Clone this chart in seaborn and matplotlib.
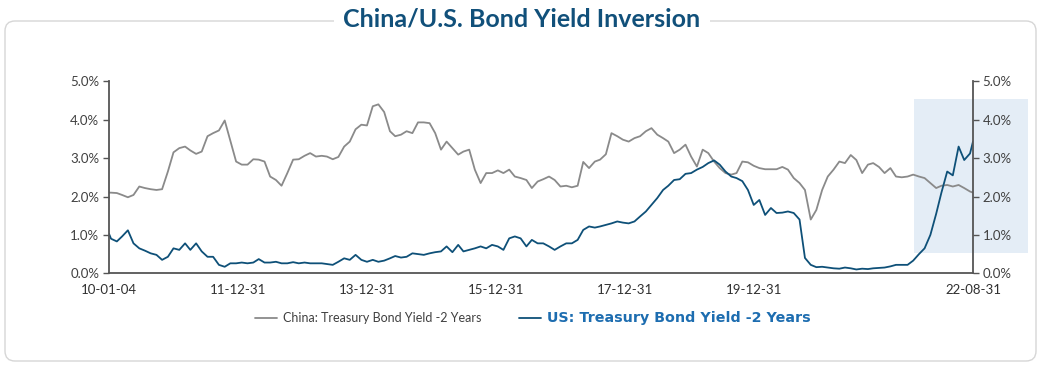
import pandas as pd
import seaborn as sns
import matplotlib.pyplot as plt
import matplotlib.dates as mdates
from matplotlib.patches import Rectangle, FancyBboxPatch
from matplotlib.transforms import IdentityTransform

# month-by-month readings (mid month); 2010 starts with 2010-01-04, 2022 ends with 2022-08-31
china_2y = [
    2.10, 2.10, 2.09, 2.04, 1.98, 2.04, 2.26, 2.22, 2.19, 2.17, 2.19, 2.65, 3.15,  # 2010
    3.26, 3.30, 3.20, 3.11, 3.17, 3.57, 3.65, 3.72, 3.98, 3.45, 2.91, 2.83,        # 2011
    2.83, 2.97, 2.96, 2.91, 2.52, 2.43, 2.28, 2.61, 2.96, 2.97, 3.06, 3.13,        # 2012
    3.04, 3.06, 3.04, 2.97, 3.03, 3.30, 3.43, 3.75, 3.87, 3.85, 4.35, 4.40,        # 2013
    4.20, 3.70, 3.57, 3.61, 3.70, 3.65, 3.93, 3.93, 3.91, 3.65, 3.22, 3.43,        # 2014
    3.26, 3.09, 3.17, 3.22, 2.70, 2.35, 2.61, 2.61, 2.68, 2.61, 2.70, 2.52,        # 2015
    2.48, 2.43, 2.22, 2.39, 2.45, 2.52, 2.43, 2.26, 2.28, 2.24, 2.28, 2.90,        # 2016
    2.74, 2.91, 2.96, 3.10, 3.65, 3.57, 3.48, 3.43, 3.52, 3.57, 3.70, 3.78,        # 2017
    3.61, 3.52, 3.43, 3.13, 3.22, 3.35, 3.04, 2.78, 3.22, 3.13, 2.91, 2.74,        # 2018
    2.61, 2.57, 2.61, 2.91, 2.89, 2.80, 2.74, 2.71, 2.71, 2.71, 2.77, 2.70,        # 2019
    2.48, 2.35, 2.17, 1.40, 1.65, 2.17, 2.52, 2.70, 2.91, 2.87, 3.08, 2.95,        # 2020
    2.61, 2.83, 2.87, 2.77, 2.61, 2.74, 2.52, 2.50, 2.52, 2.57, 2.52, 2.48,        # 2021
    2.35, 2.22, 2.28, 2.30, 2.26, 2.30, 2.22, 2.13, 2.10,                          # 2022
]
us_2y = [
    1.03, 0.90, 0.83, 0.96, 1.12, 0.78, 0.65, 0.59, 0.52, 0.48, 0.35, 0.43, 0.65,  # 2010
    0.61, 0.78, 0.61, 0.78, 0.57, 0.43, 0.43, 0.22, 0.17, 0.26, 0.26, 0.28,        # 2011
    0.26, 0.28, 0.37, 0.28, 0.28, 0.30, 0.26, 0.26, 0.29, 0.26, 0.28, 0.26,        # 2012
    0.26, 0.26, 0.24, 0.22, 0.30, 0.39, 0.35, 0.48, 0.35, 0.30, 0.35, 0.30,        # 2013
    0.33, 0.39, 0.45, 0.41, 0.43, 0.52, 0.50, 0.48, 0.52, 0.55, 0.57, 0.70,        # 2014
    0.55, 0.74, 0.57, 0.61, 0.65, 0.70, 0.65, 0.74, 0.70, 0.61, 0.91, 0.96,        # 2015
    0.91, 0.70, 0.87, 0.78, 0.78, 0.70, 0.61, 0.70, 0.78, 0.78, 0.87, 1.13,        # 2016
    1.22, 1.19, 1.22, 1.26, 1.30, 1.35, 1.32, 1.30, 1.35, 1.48, 1.61, 1.78,        # 2017
    1.96, 2.17, 2.28, 2.43, 2.45, 2.59, 2.61, 2.70, 2.77, 2.87, 2.94, 2.83,        # 2018
    2.65, 2.52, 2.48, 2.40, 2.17, 1.78, 1.91, 1.52, 1.70, 1.57, 1.58, 1.61,        # 2019
    1.57, 1.40, 0.40, 0.22, 0.16, 0.17, 0.15, 0.13, 0.12, 0.15, 0.13, 0.10,        # 2020
    0.12, 0.11, 0.13, 0.14, 0.15, 0.18, 0.22, 0.22, 0.22, 0.33, 0.50, 0.65,        # 2021
    1.00, 1.55, 2.10, 2.65, 2.55, 3.30, 2.95, 3.12, 3.43,                          # 2022
]
dates = (["2010-01-04"]
         + [f"{y}-{m:02d}-15" for y in range(2010, 2022) for m in range(1, 13)]
         + [f"2022-{m:02d}-15" for m in range(1, 9)]
         + ["2022-08-31"])

x_ticks = ["2010-01-04", "2011-11-24", "2013-10-15", "2015-09-05", "2017-07-26", "2019-06-16", "2022-08-31"]
x_labels = ["10-01-04", "11-12-31", "13-12-31", "15-12-31", "17-12-31", "19-12-31", "22-08-31"]
china_label = "China: Treasury Bond Yield -2 Years"
us_label = "US: Treasury Bond Yield -2 Years"

df = pd.DataFrame({
    "date": pd.to_datetime(dates * 2),
    "value": china_2y + us_2y,
    "series": [china_label] * len(dates) + [us_label] * len(dates),
})

sns.set_theme(style="white")
plt.rcParams["font.family"] = ["Lato", "DejaVu Sans"]

fig = plt.figure(figsize=(10.44, 3.67), dpi=100)
ax = fig.add_axes([109 / 1044, 93.7 / 367, 864 / 1044, 192 / 367])
ax.set_facecolor("none")

# highlighted recent period
x0 = mdates.date2num(pd.Timestamp("2021-10-19"))
x1 = mdates.date2num(pd.Timestamp("2023-06-21"))
ax.add_patch(Rectangle((x0, 0.52), x1 - x0, 4.01, facecolor="#e4edf6",
                       edgecolor="none", clip_on=False, zorder=0))

sns.lineplot(data=df, x="date", y="value", hue="series",
             palette={china_label: "#8a8a8a", us_label: "#0e5078"},
             linewidth=1.3, legend=False, ax=ax)

ax.set_xlim(pd.Timestamp("2010-01-04"), pd.Timestamp("2022-08-31"))
ax.set_ylim(0, 5)
ax.set_yticks([0, 1, 2, 3, 4, 5])
ax.set_yticklabels([f"{v:.1f}%" for v in range(6)])
ax.set_xticks(pd.to_datetime(x_ticks))
ax.set_xticklabels(x_labels)
ax.set_xlabel("")
ax.set_ylabel("")
ax.tick_params(axis="y", left=True, right=True, labelleft=True, labelright=True,
               length=4, width=1, color="#555555", labelsize=9.5, labelcolor="#404040", pad=3)
ax.tick_params(axis="x", length=0, labelsize=9.5, labelcolor="#303030", pad=8)
for side in ["left", "right", "bottom"]:
    ax.spines[side].set_color("#555555")
    ax.spines[side].set_linewidth(1.3)
ax.spines["top"].set_visible(False)

lines = ax.get_lines()
leg = fig.legend(lines[:2], [china_label, us_label], loc="center",
                 bbox_to_anchor=(533 / 1044, 1 - 318 / 367), ncol=2, frameon=False,
                 fontsize=9, handlelength=1.75, columnspacing=3.0, handletextpad=0.5)
texts = leg.get_texts()
texts[0].set_color("#404040")
texts[1].set_color("#1d6db0")
texts[1].set_fontweight("bold")
texts[1].set_family(["DejaVu Sans"])
texts[1].set_fontsize(10.3)

# rounded frame and title breaking its top edge
frame = FancyBboxPatch((5, 6), 1031, 340, boxstyle="round,pad=0,rounding_size=10",
                       transform=IdentityTransform(), fill=False,
                       edgecolor="#d6d6d6", linewidth=1.0)
fig.patches.append(frame)
fig.text(0.5, 1 - 19 / 367, "China/U.S. Bond Yield Inversion", ha="center", va="center",
         fontsize=18, fontweight="bold", color="#11507a",
         bbox=dict(facecolor="white", edgecolor="none", pad=7))

fig.savefig("out.png", dpi=100)
